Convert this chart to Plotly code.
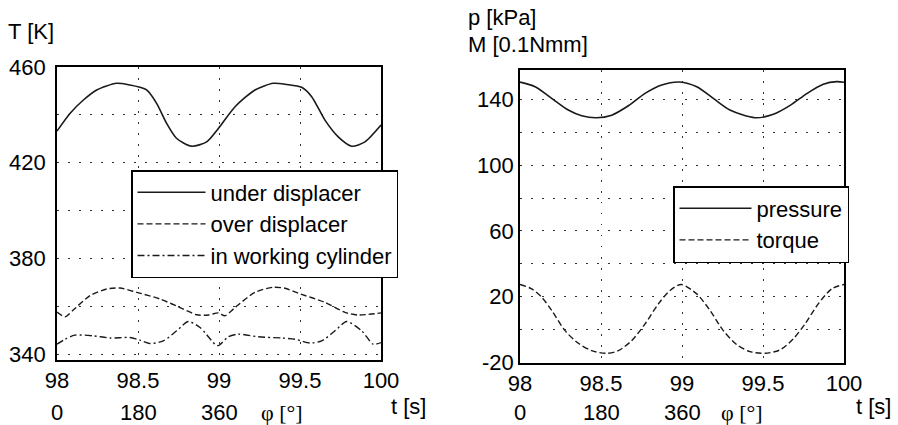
import plotly.graph_objects as go

# ---------------- data ----------------
t_under = [98.0, 98.08, 98.163, 98.245, 98.368, 98.45, 98.512, 98.553, 98.615, 98.677, 98.739,
           98.831, 98.924, 98.996, 99.099, 99.222, 99.335, 99.418, 99.51, 99.572, 99.654,
           99.736, 99.819, 99.901, 100.0]
T_under = [433.2, 440.6, 446.2, 450.4, 453.2, 452.5, 451.5, 450.4, 444.8, 436.4, 430.1,
           426.9, 428.7, 434.3, 443.4, 450.4, 453.2, 452.7, 451.5, 447.6, 437.8,
           430.8, 426.9, 428.7, 435.7]

t_over = [98.0, 98.05, 98.1, 98.204, 98.307, 98.389, 98.492, 98.636, 98.78, 98.862, 98.934,
          98.996, 99.037, 99.1, 99.222, 99.335, 99.407, 99.49, 99.654, 99.778, 99.86, 100.0]
T_over = [357.5, 355.6, 358.4, 364.4, 367.2, 367.6, 365.8, 363.0, 358.8, 356.4, 356.3,
          357.2, 356.0, 359.5, 365.8, 367.9, 367.5, 365.4, 361.6, 357.4, 356.3, 357.2]

t_work = [98.0, 98.05, 98.11, 98.224, 98.327, 98.45, 98.512, 98.574, 98.656, 98.739, 98.81,
          98.883, 98.975, 98.996, 99.057, 99.119, 99.243, 99.387, 99.469, 99.562, 99.634,
          99.716, 99.788, 99.881, 99.952, 100.0]
T_work = [344.1, 346.2, 347.9, 347.6, 346.7, 346.9, 345.8, 344.4, 345.5, 349.7, 353.6,
          351.1, 344.1, 343.5, 347.2, 348.3, 347.2, 346.7, 346.2, 344.6, 345.5,
          349.7, 353.6, 349.7, 344.1, 344.8]

t_p = [98.0, 98.093, 98.196, 98.298, 98.381, 98.473, 98.566, 98.669, 98.772, 98.875, 98.985,
       99.091, 99.193, 99.296, 99.451, 99.564, 99.67, 99.773, 99.872, 99.955, 100.0]
p_kPa = [150.6, 147.8, 140.7, 133.6, 130.1, 128.9, 130.5, 136.2, 143.8, 148.9, 150.7,
         147.8, 140.7, 133.6, 128.9, 131.0, 136.6, 143.8, 149.3, 150.9, 150.5]

t_M = [98.0, 98.072, 98.134, 98.196, 98.278, 98.36, 98.443, 98.535, 98.607, 98.689, 98.772,
       98.854, 98.926, 98.995, 99.091, 99.173, 99.255, 99.338, 99.42, 99.512, 99.605,
       99.687, 99.759, 99.841, 99.924, 100.0]
M_torque = [27.3, 24.7, 19.6, 11.5, -0.8, -8.5, -13.0, -14.6, -13.0, -6.9, 3.3,
            15.5, 23.7, 27.3, 21.6, 11.5, -0.8, -9.3, -13.6, -14.6, -12.5,
            -5.8, 3.3, 15.5, 24.7, 27.3]

x_ticks = [98, 98.5, 99, 99.5, 100]
x_ticklabels = ["98", "98.5", "99", "99.5", "100"]
phi_pos = [98, 98.5, 99]
phi_labels = ["0", "180", "360"]

T_grid = [340, 360, 380, 400, 420, 440, 460]
T_labels = ["340", "", "380", "", "420", "", "460"]
pM_grid = [-20, 0, 20, 40, 60, 80, 100, 120, 140]
pM_labels = ["-20", "", "20", "", "60", "", "100", "", "140"]

# ---------------- figure ----------------
FONT = "Liberation Sans, Arial, sans-serif"
FS = 22
LFS = 22
LC = "#1a1a1a"

fig = go.Figure()
fig.add_trace(go.Scatter(x=t_under, y=T_under, mode="lines", name="under displacer",
                         line=dict(color=LC, width=1.6, shape="spline", smoothing=0.7),
                         xaxis="x", yaxis="y", legend="legend"))
fig.add_trace(go.Scatter(x=t_over, y=T_over, mode="lines", name="over displacer",
                         line=dict(color=LC, width=1.4, dash="6px,3px", shape="spline", smoothing=0.7),
                         xaxis="x", yaxis="y", legend="legend"))
fig.add_trace(go.Scatter(x=t_work, y=T_work, mode="lines", name="in working cylinder",
                         line=dict(color=LC, width=1.4, dash="7px,3px,2px,3px", shape="spline", smoothing=0.7),
                         xaxis="x", yaxis="y", legend="legend"))
fig.add_trace(go.Scatter(x=t_p, y=p_kPa, mode="lines", name="pressure",
                         line=dict(color=LC, width=1.6, shape="spline", smoothing=0.8),
                         xaxis="x2", yaxis="y2", legend="legend2"))
fig.add_trace(go.Scatter(x=t_M, y=M_torque, mode="lines", name="torque",
                         line=dict(color=LC, width=1.4, dash="6px,3px", shape="spline", smoothing=0.8),
                         xaxis="x2", yaxis="y2", legend="legend2"))

W, H = 898, 425
def px(x): return x / W
def py(y): return 1 - y / H

axis_common = dict(showline=True, mirror=True, linecolor="black", linewidth=1.6,
                   showgrid=True, gridcolor="#333", gridwidth=1.2, griddash="1.5px,9.5px",
                   ticks="", zeroline=False, automargin=False,
                   tickfont=dict(family=FONT, size=FS, color="black"))

fig.update_layout(
    width=W, height=H, margin=dict(l=0, r=0, t=0, b=0, autoexpand=False),
    paper_bgcolor="white", plot_bgcolor="white",
    font=dict(family=FONT, size=FS, color="black"),
    xaxis=dict(domain=[px(57), px(381)], range=[98, 100], anchor="y",
               tickmode="array", tickvals=x_ticks, ticktext=x_ticklabels, **axis_common),
    yaxis=dict(domain=[py(360), py(67)], range=[337.5, 460], anchor="x",
               tickmode="array", tickvals=T_grid, ticktext=T_labels,
               ticklabelstandoff=5, **axis_common),
    xaxis2=dict(domain=[px(520), px(844)], range=[98, 100], anchor="y2",
                tickmode="array", tickvals=x_ticks, ticktext=x_ticklabels, **axis_common),
    yaxis2=dict(domain=[py(363), py(70)], range=[-20.5, 158], anchor="x2",
                tickmode="array", tickvals=pM_grid, ticktext=pM_labels, **axis_common),
    legend=dict(x=px(131), y=py(170), xanchor="left", yanchor="top",
                bgcolor="white", bordercolor="black", borderwidth=1.5,
                font=dict(family=FONT, size=LFS, color="black"), itemwidth=68,
                tracegroupgap=0),
    legend2=dict(x=px(673), y=py(186), xanchor="left", yanchor="top",
                 bgcolor="white", bordercolor="black", borderwidth=1.5,
                 font=dict(family=FONT, size=LFS, color="black"), itemwidth=72,
                 tracegroupgap=0),
    showlegend=True,
)

ann = []
# axis titles
ann.append(dict(text="T [K]", x=px(6), y=py(31), xref="paper", yref="paper",
                xanchor="left", yanchor="middle", showarrow=False))
ann.append(dict(text="p [kPa]", x=px(466), y=py(17), xref="paper", yref="paper",
                xanchor="left", yanchor="middle", showarrow=False))
ann.append(dict(text="M [0.1Nmm]", x=px(466), y=py(45), xref="paper", yref="paper",
                xanchor="left", yanchor="middle", showarrow=False))
for xr, phi_x, t_x in [("x", 259, 389), ("x2", 719, 854)]:
    for pos, lab in zip(phi_pos, phi_labels):
        ann.append(dict(text=lab, x=pos, y=py(412), xref=xr, yref="paper",
                        xanchor="center", yanchor="middle", showarrow=False))
    ann.append(dict(text="φ [°]", x=px(phi_x), y=py(412), xref="paper", yref="paper",
                    xanchor="left", yanchor="middle", showarrow=False,
                    font=dict(family="Liberation Serif, serif", size=FS, color="black")))
    ann.append(dict(text="t [s]", x=px(t_x), y=py(406), xref="paper", yref="paper",
                    xanchor="left", yanchor="middle", showarrow=False))
fig.update_layout(annotations=ann)

fig.write_html("out.html")
